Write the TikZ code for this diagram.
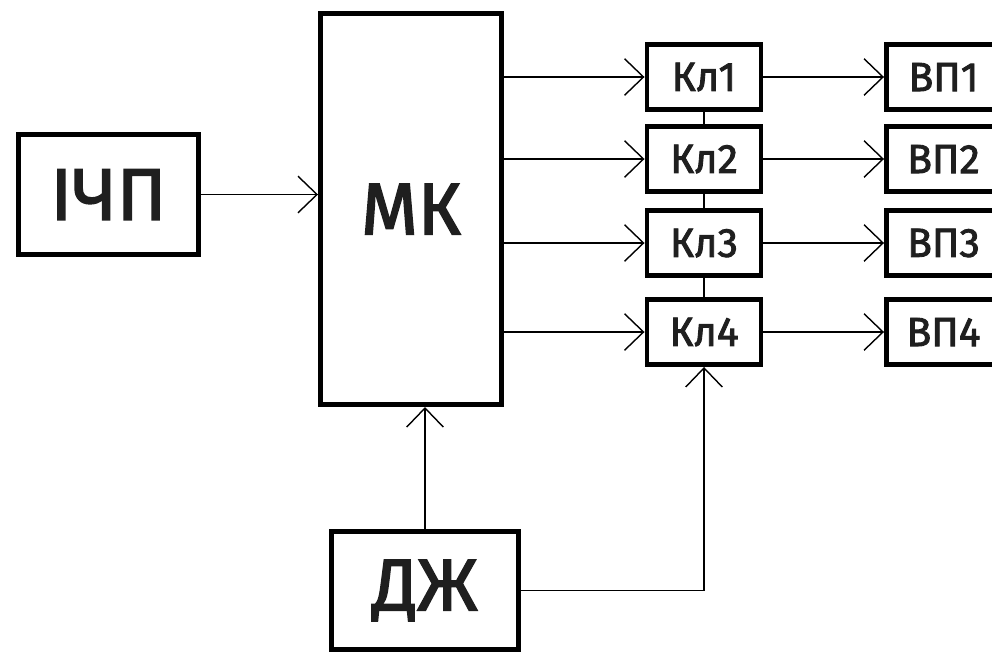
\documentclass[tikz,border=0pt]{standalone}
\usepackage{fontspec}
\setmainfont{Fira Sans}
\newfontfamily\blockfont[FakeBold=2.2]{Fira Sans}
\usetikzlibrary{arrows.meta,positioning,calc}

\begin{document}
\begin{tikzpicture}[x=0.025cm, y=-0.025cm, >={Straight Barb[length=13.5pt,width=26pt]},
  every node/.style={text=black!88},
  block/.style={draw, line width=3.5pt, inner sep=0pt},
  bigblock/.style={block, font=\fontsize{52}{56}\selectfont\blockfont},
  smallblock/.style={block, minimum width=2.85cm, minimum height=1.625cm,
    font=\fontsize{29}{32}\selectfont\blockfont},
  link/.style={line width=1pt}]
        \useasboundingbox (0,0) rectangle (992,652);

        % main blocks
        \node[bigblock, minimum width=4.5cm, minimum height=3cm] (ichp) at (108.5,194.5) {ІЧП};
        \node[bigblock, minimum width=4.525cm, minimum height=9.775cm] (mk) at (411,209) {МК};
        \node[bigblock, minimum width=4.675cm, minimum height=2.95cm] (dzh) at (425,590.5) {ДЖ};

        % keys and outputs
        \foreach \i/\y in {1/77,2/159,3/243,4/332} {
            \node[smallblock] (kl\i) at (704,\y) {Кл\i};
            \node[smallblock] (vp\i) at (943.5,\y) {ВП\i};
            \draw[link, ->] (mk.east |- kl\i.west) -- (kl\i.west);
            \draw[link, ->] (kl\i.east) -- (vp\i.west);
        }
        \foreach \i/\j in {1/2,2/3,3/4} {\draw[link] (kl\i.south) -- (kl\j.north);}

        % inputs
        \draw[link, ->] (ichp.east) -- (ichp.east -| mk.west);
        \draw[link, ->] (dzh.north) -- (dzh.north |- mk.south);
        \draw[link, ->] (dzh.east) -| (kl4.south);
    \end{tikzpicture}
\end{document}
